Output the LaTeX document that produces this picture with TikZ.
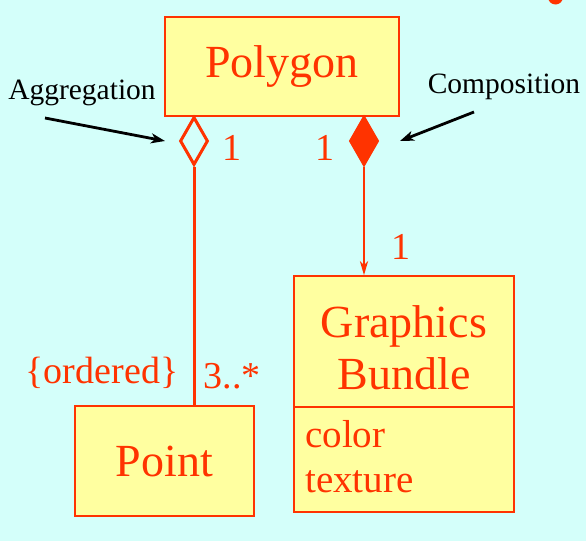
\documentclass[tikz,border=0pt]{standalone}
\usepackage{fontspec}
\setmainfont{Liberation Serif}
\newfontfamily\umlfont{Liberation Serif}
\usetikzlibrary{shapes.geometric,arrows.meta}
\definecolor{bg}{RGB}{212,255,250}
\definecolor{boxfill}{RGB}{255,255,160}
\definecolor{umlred}{RGB}{255,51,0}
\tikzset{
  classbox/.style={draw=umlred, fill=boxfill, line width=1.5pt, inner sep=0pt, text=umlred, font=\umlfont\fontsize{46}{50}\selectfont},
  diam/.style={diamond, draw=umlred, line width=3pt, inner sep=0pt, minimum width=28pt, minimum height=48pt},
  mult/.style={text=umlred, font=\umlfont\fontsize{38}{42}\selectfont, inner sep=0pt},
  attr/.style={text=umlred, font=\umlfont\fontsize{39}{42}\selectfont, inner sep=0pt, anchor=west},
  note/.style={text=black, font=\umlfont\fontsize{29.5}{32}\selectfont, inner sep=0pt},
  link/.style={draw=umlred, line width=3pt},
  pointer/.style={draw=black, line width=2.8pt, -{Stealth[length=14pt,width=10pt,inset=4pt]}}
}
\begin{document}
\begin{tikzpicture}[x=1pt,y=-1pt]
\useasboundingbox (0,0) rectangle (586,541);
\begin{scope}
\clip (0,0) rectangle (586,541);
\fill[bg] (0,0) rectangle (586,541);
\fill[umlred] (555.5,-3) circle (7.5);
\end{scope}
% classes
\node[classbox, minimum width=234pt, minimum height=99pt] (poly) at (282,66.5) {Polygon};
\node[classbox, minimum width=179pt, minimum height=110pt] (point) at (164.5,461) {Point};
\node[classbox, minimum width=220pt, minimum height=236pt] (gb) at (404,394) {};
\node[text=umlred, font=\umlfont\fontsize{46}{50}\selectfont, inner sep=0pt, align=center] (gbname) at (404,348) {Graphics\\[2pt]Bundle};
\coordinate (dl) at (294,407);
\coordinate (dr) at (514,407);
\draw[umlred, line width=1.5pt] (dl) -- (dr);
\node[attr] (color) at (305,434) {color};
\node[attr] (texture) at (305,482) {texture};
% diamonds
\node[diam, fill=bg] (agg) at (194,141) {};
\node[diam, fill=umlred] (comp) at (364,141) {};
% connectors
\draw[link] (agg.south) -- (agg.south |- point.north);
\draw[link, line width=2.5pt, -{Stealth[length=14pt,width=8pt,inset=4pt]}] (comp.south) -- (comp.south |- gb.north);
% multiplicities
\node[mult] (m1) at (232,148) {1};
\node[mult] (m2) at (325,148) {1};
\node[mult] (m3) at (401,247) {1};
\node[mult] (ord) at (102,373) {\{ordered\}};
\node[mult] (m4) at (232,376) {3..*};
% notes
\node[note] (aggl) at (82,93) {Aggregation};
\node[note] (compl) at (504,87) {Composition};
\coordinate (aggs) at (45,118);
\coordinate (agge) at (165,141);
\coordinate (comps) at (474,112);
\coordinate (compe) at (400,141);
\draw[pointer] (aggs) -- (agge);
\draw[pointer] (comps) -- (compe);
\end{tikzpicture}
\end{document}
